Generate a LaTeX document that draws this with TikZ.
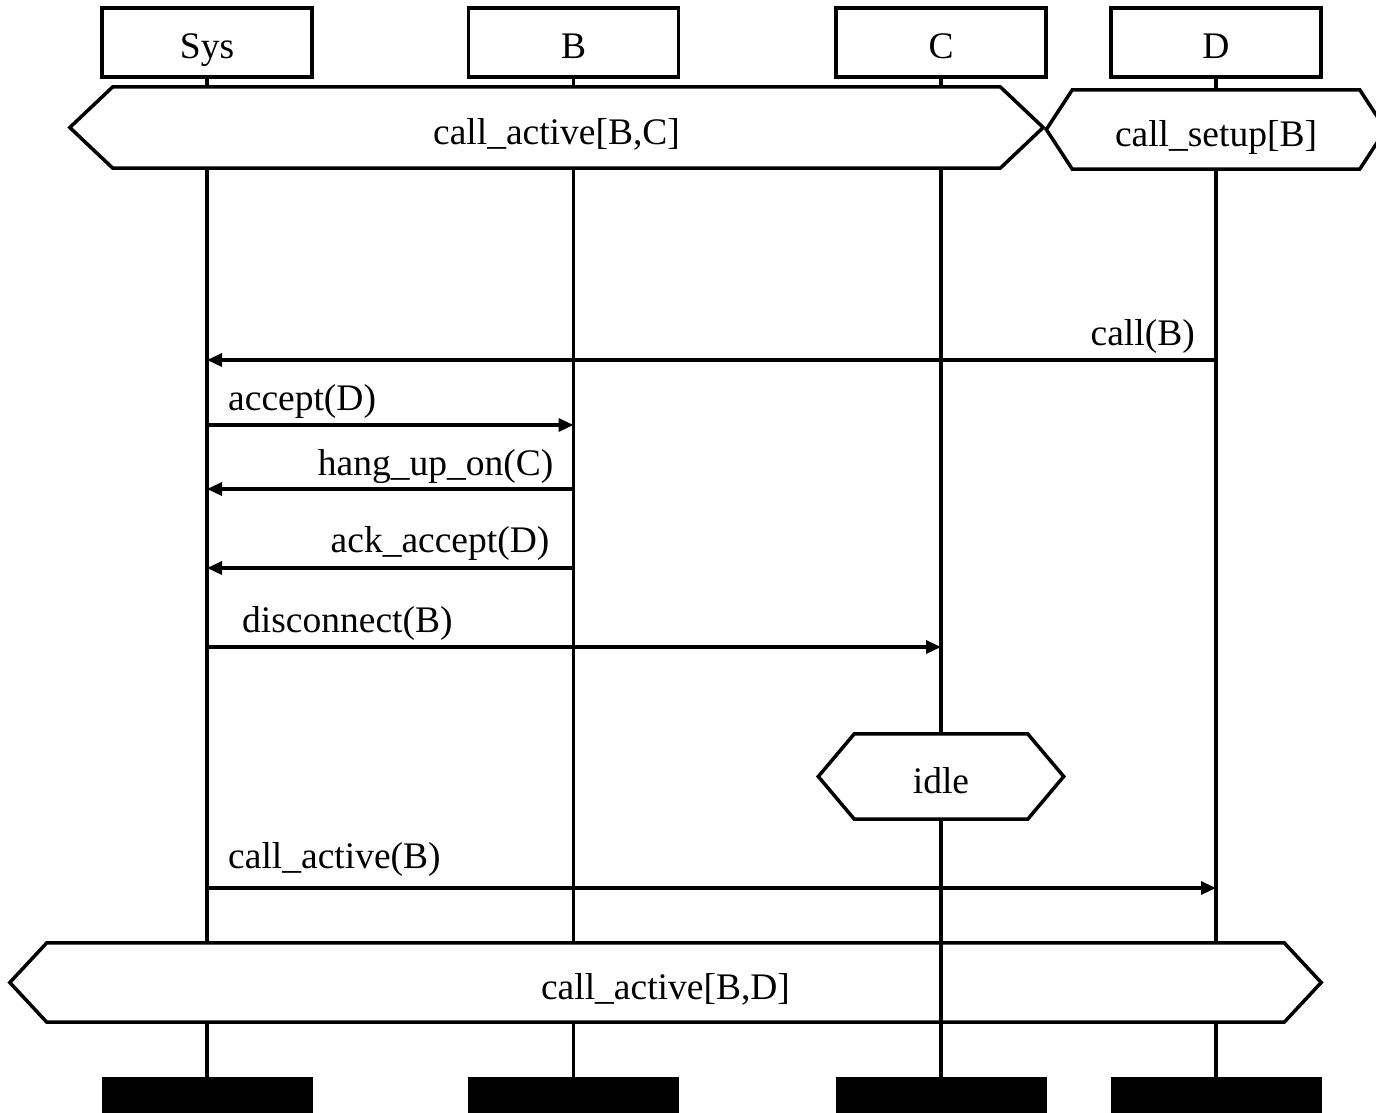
\documentclass[tikz,border=0pt]{standalone}
\usepackage{fontspec}
\setmainfont{Liberation Serif}
\usetikzlibrary{arrows.meta}

\newcommand{\condhex}[2]{\draw[cline] (#1.north west) -- (#1.north east) -- ([xshift=#2]#1.east) -- (#1.south east) -- (#1.south west) -- ([xshift=-#2]#1.west) -- cycle;}

\begin{document}
\begin{tikzpicture}[x=1pt,y=-1pt,
        font=\fontsize{37.5}{45}\selectfont,
        inst/.style={draw,line width=3.5pt,minimum width=210,minimum height=69,inner sep=0,text height=32pt,text depth=0pt},
        stopbox/.style={fill=black,minimum width=211,minimum height=46,inner sep=0},
        cond/.style={inner sep=0,minimum height=80,text height=33pt,text depth=0pt},
        cline/.style={line width=3.5pt},
        life/.style={line width=3.5pt},
        msg/.style={line width=3.3pt,-{Triangle[length=15pt,width=13pt]}},
        lbl/.style={inner sep=0}]
        \useasboundingbox (0,0) rectangle (1376,1112);

        \node[inst] (sys) at (207,42.5) {Sys};
        \node[inst] (b) at (573.5,42.5) {B};
        \node[inst] (c) at (941,42.5) {C};
        \node[inst] (d) at (1216,42.5) {D};

        \node[cond,minimum width=887,minimum height=81] (bc) at (556.5,127.5) {call\_active[B,C]};
        \condhex{bc}{43}
        \node[cond,minimum width=287,minimum height=79] (setup) at (1216,129.5) {call\_setup[B]};
        \condhex{setup}{26}
        \node[cond,minimum width=173,minimum height=85] (idle) at (941,776.5) {idle};
        \condhex{idle}{36}
        \node[cond,minimum width=1237,minimum height=79] (bd) at (665.5,982.5) {call\_active[B,D]};
        \condhex{bd}{37}

        \node[stopbox] (sysend) at (207,1100) {};
        \node[stopbox] (bend) at (573.5,1100) {};
        \node[stopbox] (cend) at (941,1100) {};
        \node[stopbox] (dend) at (1216,1100) {};

        \draw[life] (sys) -- (sys |- bc.north);
        \draw[life] (bc.south -| sys) -- (bd.north -| sys);
        \draw[life] (bd.south -| sys) -- (sysend);
        \draw[life] (b) -- (b |- bc.north);
        \draw[life] (bc.south -| b) -- (bd.north -| b);
        \draw[life] (bd.south -| b) -- (bend);
        \draw[life] (c) -- (c |- bc.north);
        \draw[life] (bc.south -| c) -- (idle);
        \draw[life] (idle) -- (cend);
        \draw[life] (d) -- (setup);
        \draw[life] (setup) -- (d |- bd.north);
        \draw[life] (bd.south -| d) -- (dend);

        \coordinate (t1) at (0,360);
        \coordinate (t2) at (0,425);
        \coordinate (t3) at (0,489);
        \coordinate (t4) at (0,568);
        \coordinate (t5) at (0,647);
        \coordinate (t6) at (0,888);

        \draw[msg] (t1 -| d) -- (t1 -| sys);
        \node[lbl,anchor=base east] (call) at ([xshift=-21,yshift=15]t1 -| d) {call(B)};
        \draw[msg] (t2 -| sys) -- (t2 -| b);
        \node[lbl,anchor=base west] (acc) at ([xshift=21,yshift=15]t2 -| sys) {accept(D)};
        \draw[msg] (t3 -| b) -- (t3 -| sys);
        \node[lbl,anchor=base east] (hang) at ([xshift=-20,yshift=14]t3 -| b) {hang\_up\_on(C)};
        \draw[msg] (t4 -| b) -- (t4 -| sys);
        \node[lbl,anchor=base east] (ack) at ([xshift=-24,yshift=16]t4 -| b) {ack\_accept(D)};
        \draw[msg] (t5 -| sys) -- (t5 -| c);
        \node[lbl,anchor=base west] (disc) at ([xshift=35,yshift=15]t5 -| sys) {disconnect(B)};
        \draw[msg] (t6 -| sys) -- (t6 -| d);
        \node[lbl,anchor=base west] (act) at ([xshift=21,yshift=20]t6 -| sys) {call\_active(B)};
\end{tikzpicture}
\end{document}
